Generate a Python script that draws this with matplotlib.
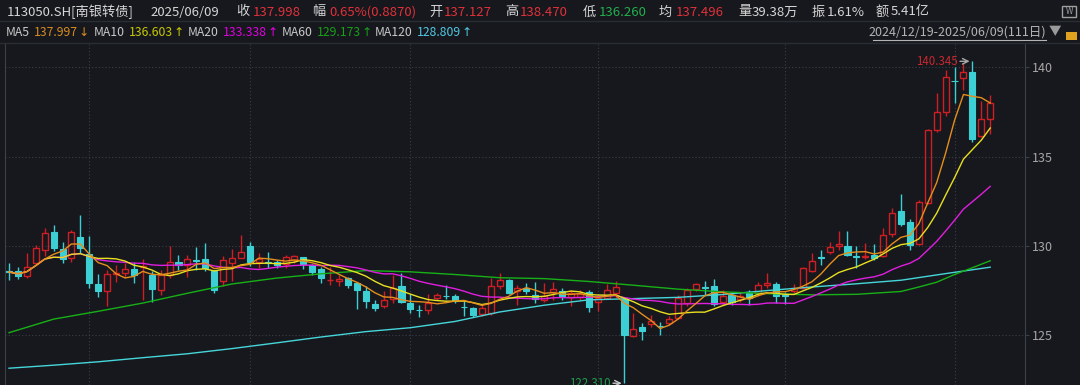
import numpy as np
import pandas as pd
import matplotlib.pyplot as plt
from matplotlib.patches import Rectangle
from matplotlib.lines import Line2D

plt.rcParams['font.family'] = ['Noto Sans CJK SC', 'DejaVu Sans']

# daily OHLC, 2024/12/19 - 2025/06/09 (111 trading days)
opens = [128.57, 128.60, 128.34, 129.05, 129.77, 130.80, 129.81, 129.33, 130.52, 129.55,
         127.85, 127.49, 128.41, 128.47, 128.70, 128.81, 128.37, 127.56, 128.35, 129.10,
         128.94, 129.22, 129.26, 128.57, 128.02, 129.03, 129.31, 130.02, 129.10, 129.10,
         129.10, 129.00, 129.23, 129.37, 128.92, 128.71, 128.08, 128.04, 128.19, 127.91,
         127.48, 126.75, 126.66, 127.05, 127.73, 126.83, 126.41, 126.41, 127.11, 127.21,
         127.21, 126.59, 126.54, 126.21, 126.23, 127.77, 128.09, 127.49, 127.63, 127.25,
         126.97, 127.44, 127.48, 127.16, 127.14, 127.42, 126.86, 127.06, 127.39, 127.03,
         124.93, 125.48, 125.61, 125.53, 125.67, 125.94, 126.83, 127.61, 127.69, 127.76,
         126.88, 127.25, 127.04, 127.35, 127.34, 127.84, 127.86, 127.23, 127.45, 127.67,
         128.58, 129.37, 129.64, 130.02, 130.02, 129.41, 129.37, 129.51, 129.44, 130.66,
         131.96, 131.36, 130.10, 132.39, 136.50, 137.52, 139.25, 139.39, 139.73, 136.16,
         137.127]
closes = [128.54, 128.34, 128.81, 129.90, 130.73, 129.89, 129.25, 130.78, 129.87, 127.94,
          127.49, 128.41, 128.51, 128.69, 128.37, 128.90, 127.59, 128.37, 129.12, 128.94,
          129.26, 129.18, 128.75, 127.53, 129.22, 129.31, 129.68, 129.10, 129.27, 129.07,
          128.94, 129.37, 129.42, 129.01, 128.54, 128.22, 128.12, 128.15, 127.81, 127.53,
          126.93, 126.50, 126.97, 127.66, 126.88, 126.47, 126.40, 126.79, 127.25, 127.20,
          126.93, 126.57, 126.13, 126.53, 127.73, 128.09, 127.39, 127.63, 127.46, 127.05,
          127.21, 127.58, 127.21, 127.37, 127.31, 126.60, 127.10, 127.53, 127.69, 125.01,
          125.35, 125.24, 125.77, 125.51, 125.92, 127.06, 127.53, 127.85, 127.66, 126.77,
          127.21, 126.85, 127.17, 127.06, 127.79, 127.93, 127.21, 127.20, 127.65, 128.75,
          129.14, 129.35, 129.96, 130.10, 129.52, 129.38, 129.44, 129.31, 130.63, 131.83,
          131.21, 130.06, 132.48, 136.50, 137.49, 139.48, 139.23, 139.73, 135.98, 137.11,
          137.998]
highs = [129.05, 128.84, 129.61, 130.03, 131.02, 131.18, 130.24, 130.88, 131.71, 130.58,
         128.41, 128.65, 128.91, 129.05, 129.09, 129.27, 128.60, 128.65, 130.00, 129.47,
         129.50, 129.94, 130.15, 128.67, 129.45, 129.82, 130.59, 130.21, 129.58, 129.65,
         129.19, 129.52, 129.50, 129.40, 128.99, 128.81, 128.82, 128.37, 128.28, 128.00,
         127.73, 126.97, 127.45, 128.37, 128.47, 127.31, 126.71, 127.32, 127.37, 127.80,
         127.29, 126.93, 126.60, 126.67, 128.19, 128.49, 128.15, 127.80, 127.93, 128.00,
         127.94, 127.98, 127.63, 127.56, 127.53, 127.53, 127.25, 127.87, 128.04, 127.09,
         126.23, 125.70, 126.13, 125.76, 126.07, 127.23, 127.67, 127.94, 128.02, 128.15,
         127.53, 127.44, 127.44, 127.53, 127.98, 128.47, 128.00, 127.42, 127.87, 128.80,
         129.59, 129.78, 130.21, 130.81, 130.81, 130.00, 130.14, 130.10, 130.99, 132.13,
         132.90, 131.52, 132.56, 136.54, 138.55, 139.83, 140.04, 140.23, 140.345, 138.10,
         138.470]
lows = [128.09, 128.15, 128.21, 128.96, 129.44, 129.72, 129.03, 129.10, 129.63, 127.63,
        127.16, 126.64, 128.00, 128.26, 127.95, 126.97, 126.88, 127.28, 128.22, 128.64,
        128.28, 128.64, 128.61, 127.38, 127.77, 128.04, 129.30, 128.88, 128.74, 128.77,
        128.74, 128.79, 129.07, 128.71, 128.35, 127.94, 127.84, 127.73, 127.65, 126.49,
        126.51, 126.37, 126.53, 126.83, 126.79, 126.26, 126.04, 126.21, 126.97, 127.03,
        126.83, 126.06, 126.04, 126.07, 126.13, 127.60, 127.33, 126.69, 127.32, 126.81,
        126.86, 126.97, 126.97, 126.65, 126.97, 126.32, 126.37, 127.00, 127.09, 122.31,
        124.92, 124.73, 125.48, 125.01, 125.57, 125.88, 126.64, 127.48, 127.25, 126.64,
        126.69, 126.69, 126.88, 126.69, 127.20, 127.67, 126.83, 126.77, 127.34, 127.60,
        128.52, 128.94, 129.55, 129.78, 129.41, 128.79, 129.27, 129.24, 129.40, 130.48,
        131.10, 129.78, 130.06, 132.35, 136.39, 137.29, 138.00, 138.74, 135.84, 136.12,
        136.260]

# long averages (they need history before the window)
ma60_idx = [0, 5, 10, 15, 20, 25, 30, 35, 40, 45, 50, 55, 60, 65, 70, 75, 80, 85, 90, 95,
            100, 102, 104, 106, 108, 110]
ma60_vals = [125.14, 125.90, 126.34, 126.80, 127.35, 127.87, 128.20, 128.44, 128.62, 128.55,
             128.40, 128.22, 128.17, 128.01, 127.80, 127.58, 127.43, 127.33, 127.26, 127.29,
             127.45, 127.70, 127.97, 128.40, 128.78, 129.17]
ma120_idx = [0, 5, 10, 15, 20, 25, 30, 35, 40, 45, 50, 55, 60, 65, 70, 75, 80, 85, 90, 95,
             100, 105, 110]
ma120_vals = [123.15, 123.32, 123.51, 123.74, 123.96, 124.25, 124.57, 124.90, 125.20, 125.42,
              125.77, 126.30, 126.68, 126.98, 127.05, 127.12, 127.28, 127.50, 127.70, 127.88,
              128.08, 128.45, 128.81]

month_starts = [9, 27, 45, 66, 87, 106]   # first trading day of Jan..Jun
y_ticks = [125, 130, 135, 140]

BG = '#16181d'
RED = '#cf1e24'
CYAN = '#3ccfd3'
GRID = '#3a3e46'

fig = plt.figure(figsize=(10.8, 3.85), dpi=100, facecolor=BG)
W, H = 1080, 385
ax = fig.add_axes([5 / W, 0, 1020 / W, 342 / H], facecolor=BG)

n = len(closes)
x = np.arange(n)
cl = pd.Series(closes)
ma5 = cl.rolling(5, min_periods=1).mean()
ma10 = cl.rolling(10, min_periods=1).mean()
ma20 = cl.rolling(20, min_periods=1).mean()

bw = 0.68
for i in range(n):
    o, h, l, c = opens[i], highs[i], lows[i], closes[i]
    if c >= o:
        ax.vlines(i, c, h, color=RED, lw=1, zorder=2)
        ax.vlines(i, l, o, color=RED, lw=1, zorder=2)
        ax.add_patch(Rectangle((i - bw / 2, o), bw, max(c - o, 0.02), fill=False,
                               edgecolor=RED, lw=1, zorder=3))
    else:
        ax.vlines(i, l, h, color=CYAN, lw=1, zorder=2)
        ax.add_patch(Rectangle((i - bw / 2, c), bw, o - c, facecolor=CYAN,
                               edgecolor=CYAN, lw=0.8, zorder=3))

ax.plot(ma120_idx, ma120_vals, color='#46d6da', lw=1, zorder=4)
ax.plot(ma60_idx, ma60_vals, color='#17b017', lw=1, zorder=4)
ax.plot(x, ma20, color='#e01ee0', lw=1, zorder=4)
ax.plot(x, ma10, color='#e8e020', lw=1, zorder=4)
ax.plot(x, ma5, color='#e58e1c', lw=1, zorder=4)

# max / min labels
imax = int(np.argmax(highs))
imin = int(np.argmin(lows))
ax.annotate('', xy=(imax, highs[imax]), xytext=(imax - 1.7, highs[imax]),
            arrowprops=dict(arrowstyle='->', color='#a8a8a8', lw=1), zorder=5)
ax.text(imax - 1.7, highs[imax], f'{highs[imax]:.3f}', color='#c8282e', fontsize=8.3,
        ha='right', va='center', zorder=5)
ax.annotate('', xy=(imin, lows[imin]), xytext=(imin - 1.6, lows[imin]),
            arrowprops=dict(arrowstyle='->', color='#c8c8c8', lw=1), zorder=5)
ax.text(imin - 1.6, lows[imin], f'{lows[imin]:.3f}', color='#1f9e4a', fontsize=8.3,
        ha='right', va='center', zorder=5)

ax.set_xlim(-0.45, 113.9)
ax.set_ylim(122.21, 141.37)
ax.set_xticks([])
ax.set_yticks(y_ticks)
ax.yaxis.tick_right()
ax.tick_params(axis='y', colors='#3a3e46', labelcolor='#a6a6a6', labelsize=9,
               length=3, pad=2)
for v in month_starts:
    ax.axvline(v, color=GRID, lw=0.8, ls=(0, (1, 2)), zorder=1)
for v in y_ticks:
    ax.axhline(v, color=GRID, lw=0.8, ls=(0, (1, 2)), zorder=1)
for s in ['top', 'bottom']:
    ax.spines[s].set_visible(False)
ax.spines['right'].set_color('#3c4048')
ax.spines['left'].set_color('#3c4048')

# header rows
fig.add_artist(Line2D([0, 1], [1 - 21 / H, 1 - 21 / H], color='#2a2d34', lw=1))
fig.add_artist(Line2D([0, 1], [1 - 43 / H, 1 - 43 / H], color='#2a2d34', lw=1))

LBL = '#d6d6d6'
R = '#e0313a'
G = '#22b04c'
row1 = [(7, '113050.SH[南银转债]', LBL), (150, '2025/06/09', LBL),
        (236, '收', LBL), (253, '137.998', R),
        (312, '幅', LBL), (329, '0.65%(0.8870)', R),
        (429, '开', LBL), (444, '137.127', R),
        (505, '高', LBL), (520, '138.470', R),
        (583, '低', LBL), (599, '136.260', G),
        (659, '均', LBL), (676, '137.496', R),
        (738, '量', LBL), (752, '39.38万', LBL),
        (812, '振', LBL), (827, '1.61%', LBL),
        (876, '额', LBL), (891, '5.41亿', LBL)]
for px, s, col in row1:
    fig.text(px / W, 1 - 12 / H, s, color=col, fontsize=9.5, ha='left', va='center')

# MA legend row: name, value, trend arrow
ma_names = ['MA5', 'MA10', 'MA20', 'MA60', 'MA120']
ma_last = ['137.997', '136.603', '133.338', '129.173', '128.809']
ma_trend = ['↓', '↑', '↑', '↑', '↑']
ma_colors = ['#d98c1f', '#c8c800', '#e000e0', '#18a018', '#50c8e0']
name_x = [6, 94, 188, 282, 375]

fig.canvas.draw()
rend = fig.canvas.get_renderer()
for nm, val, tr, col, px in zip(ma_names, ma_last, ma_trend, ma_colors, name_x):
    t1 = fig.text(px / W, 1 - 32.5 / H, nm, color='#c8c8c8', fontsize=8.8,
                  ha='left', va='center')
    x1 = t1.get_window_extent(rend).x1 + 4
    t2 = fig.text(x1 / W, 1 - 32.5 / H, val, color=col, fontsize=8.8,
                  ha='left', va='center')
    x2 = t2.get_window_extent(rend).x1 + 0.5
    fig.text(x2 / W, 1 - 32.5 / H, tr, color=col, fontsize=8.8, family='DejaVu Sans',
             ha='left', va='center')

fig.text(1046 / W, 1 - 32.5 / H, '2024/12/19-2025/06/09(111日)', color='#b4b4b4',
         fontsize=9, ha='right', va='center')
fig.add_artist(Line2D([873 / W, 1046 / W], [1 - 40 / H, 1 - 40 / H], color='#b4b4b4', lw=0.8))
fig.text(1055 / W, 1 - 31.5 / H, '▼', color='#9a9a9a', fontsize=9, ha='center', va='center')

# small toolbar icons at the right
fig.add_artist(Rectangle((1062 / W, 1 - 17 / H), 14 / W, 11 / H, fill=False,
                         edgecolor='#a0a0a0', lw=1, transform=fig.transFigure))
fig.text(1069 / W, 1 - 11.5 / H, 'W', color='#a0a0a0', fontsize=6, ha='center', va='center')
fig.add_artist(Rectangle((1066 / W, 1 - 40 / H), 11 / W, 8 / H, facecolor='#e0a020',
                         edgecolor='none', transform=fig.transFigure))

fig.savefig('out.png', dpi=100, facecolor=BG)
